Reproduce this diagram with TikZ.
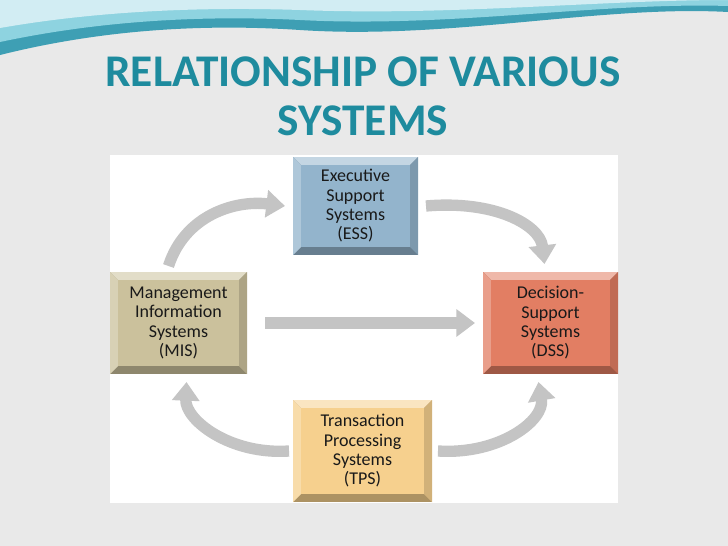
\documentclass[tikz,border=0pt]{standalone}
\usepackage{fontspec}
\setmainfont{Carlito}
\usetikzlibrary{arrows.meta}
\definecolor{bg}{HTML}{E9E9E9}
\definecolor{teal1}{HTML}{3E9FB4}
\definecolor{teal2}{HTML}{8ED3E0}
\definecolor{titlec}{HTML}{1E8B9E}
\definecolor{essc}{HTML}{93B4CC}
\definecolor{misc}{HTML}{CBC19C}
\definecolor{dssc}{HTML}{E27E63}
\definecolor{tpsc}{HTML}{F6D08E}
\definecolor{arr}{HTML}{C4C4C4}
\tikzset{
 flow/.style={draw=arr,line width=8.5pt,-{Triangle[width=20pt,length=14pt]}},
 boxtext/.style={align=center,font=\fontsize{13.5}{14.5}\selectfont,text=black!90}
}
\newcommand\bevbox[7]{%
 \fill[#6!70!black] (#2,#3) rectangle (#4,#5);
 \fill[#6!55!white] (#2,#3) -- (#4,#3) -- ({#4-8},{#3+8}) -- ({#2+8},{#3+8}) -- cycle;
 \fill[#6!75!white] (#2,#3) -- ({#2+8},{#3+8}) -- ({#2+8},{#5-8}) -- (#2,#5) -- cycle;
 \fill[#6!85!black] (#4,#3) -- (#4,#5) -- ({#4-8},{#5-8}) -- ({#4-8},{#3+8}) -- cycle;
 \fill[#6] ({#2+8},{#3+8}) rectangle ({#4-8},{#5-8});
 \node[boxtext,inner sep=0pt] (#1) at ({(#2+#4)/2},{(#3+#5)/2}) {#7};
 \path (#2,{(#3+#5)/2}) coordinate (#1-w) (#4,{(#3+#5)/2}) coordinate (#1-e)
       ({(#2+#4)/2},#3) coordinate (#1-n) ({(#2+#4)/2},#5) coordinate (#1-s);
}
\begin{document}
\begin{tikzpicture}[x=0.75pt,y=-0.75pt]
\fill[bg] (0,0) rectangle (728,546);
\useasboundingbox (0,0) rectangle (728,546);
% top wave
\fill[teal1] (0,0) -- (728,0) -- (728,12) .. controls (600,5) and (450,40) .. (300,30) .. controls (180,22) and (80,35) .. (0,55) -- cycle;
\fill[teal2] (0,0) -- (728,0) -- (728,6) .. controls (600,2) and (450,28) .. (300,20) .. controls (180,14) and (80,25) .. (0,42) -- cycle;
\fill[white!60!teal2] (0,0) -- (728,0) .. controls (600,0) and (450,16) .. (300,10) .. controls (180,6) and (80,14) .. (0,28) -- cycle;
% title
\node[font=\bfseries\fontsize{34}{37}\selectfont,text=titlec,align=center] (title) at (363,96) {RELATIONSHIP OF VARIOUS\\SYSTEMS};
% panel
\fill[white] (110,155) rectangle (618,503);
% boxes
\bevbox{ess}{293}{157}{418}{255}{essc}{Executive\\Support\\Systems\\(ESS)}
\bevbox{mis}{110}{272}{247}{374}{misc}{Management\\Information\\Systems\\(MIS)}
\bevbox{dss}{483}{272}{618}{374}{dssc}{Decision-\\Support\\Systems\\(DSS)}
\bevbox{tps}{293}{400}{432}{502}{tpsc}{Transaction\\Processing\\Systems\\(TPS)}
% arrows
\draw[flow] ([shift={(-10,-6)}]mis-n) .. controls (185,215) and (235,200) .. ([shift={(-8,0)}]ess-w);
\draw[flow] ([shift={(8,0)}]ess-e) .. controls (495,200) and (540,225) .. ([shift={(-6,-8)}]dss-n);
\draw[flow] ([shift={(-4,0)}]tps-w) .. controls (230,455) and (185,420) .. ([shift={(8,8)}]mis-s);
\draw[flow] ([shift={(6,0)}]tps-e) .. controls (500,455) and (545,420) .. ([shift={(-12,8)}]dss-s);
\draw[flow] ([shift={(18,0)}]mis-e) -- ([shift={(-8,0)}]dss-w);
\end{tikzpicture}
\end{document}
